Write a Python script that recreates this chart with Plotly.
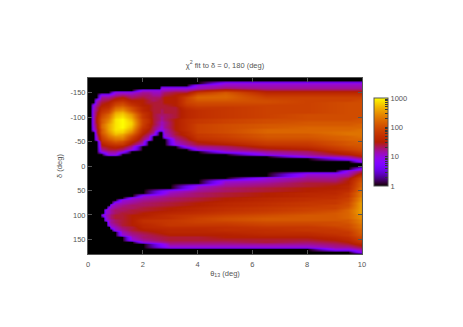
import math
import plotly.graph_objects as go

# Values: 10 * log10(chi^2), 5 degree steps in delta from the given start.
x_ticks = [0, 2, 4, 6, 8, 10]
y_ticks = [-150, -100, -50, 0, 50, 100, 150]
y_tick_labels = ["-150", "-100", "-50", "0", "50", "100", "150"]
cbar_labels = ["1", "10", "100", "1000"]

upper_theta = [0.1, 0.2, 0.3, 0.5, 0.75, 1, 1.25, 1.6, 2, 2.2, 2.4, 2.6, 2.68, 2.8, 3.2, 3.6, 4, 5, 6.5, 8, 9.5, 10]
upper_start = [-100, -125, -135, -145, -145, -150, -150, -150, -155, -155, -155, -155, -160, -160, -160, -160, -165, -170, -170, -170, -170, -170]
u010 = []
u020 = [10, 10, 11, 11, 11, 11, 11, 11, 11, 10, 10]
u030 = [10, 11, 12, 13, 13, 14, 14, 15, 15, 15, 14, 14, 13, 13, 12, 11, 10]
u050 = [10, 12, 13, 14, 15, 16, 17, 18, 19, 20, 21, 21, 22, 22, 21, 21, 20, 19, 18, 17, 15, 14, 12, 10]
u075 = [10, 12, 14, 15, 16, 17, 19, 20, 22, 23, 24, 25, 26, 26, 26, 25, 24, 23, 21, 19, 17, 15, 14, 12, 10]
u100 = [10, 12, 14, 16, 18, 20, 22, 24, 26, 27, 28, 29, 29, 29, 29, 29, 28, 27, 25, 23, 21, 18, 16, 14, 12, 10]
u125 = [10, 13, 15, 17, 19, 21, 23, 25, 27, 28, 29, 30, 30, 30, 30, 29, 28, 26, 25, 23, 20, 18, 15, 13, 10]
u160 = [10, 12, 13, 15, 16, 18, 20, 21, 23, 25, 26, 27, 28, 28, 27, 26, 24, 22, 20, 18, 16, 14, 12, 10]
u200 = [10, 12, 13, 14, 15, 15, 15, 16, 16, 17, 18, 18, 19, 19, 19, 18, 17, 16, 15, 14, 13, 12, 10]
u220 = [10, 12, 13, 13, 14, 14, 15, 15, 15, 16, 16, 16, 17, 17, 16, 16, 15, 14, 13, 12, 10]
u240 = [10, 11, 12, 13, 13, 14, 14, 14, 14, 14, 14, 14, 14, 14, 14, 13, 13, 12, 10]
u260 = [10, 11, 12, 13, 14, 14, 14, 14, 14, 14, 13, 13, 13, 12, 12, 11, 10]
u268 = [10, 11, 12, 13, 14, 14, 14, 14, 14, 13, 13, 13, 12, 12, 11, 11, 10, 10]
u280 = [10, 11, 13, 14, 15, 15, 15, 14, 14, 14, 14, 13, 13, 13, 12, 12, 12, 11, 11, 10, 10]
u320 = [10, 12, 14, 15, 15, 15, 15, 15, 14, 14, 14, 14, 14, 15, 15, 15, 15, 15, 14, 14, 13, 12, 11, 10]
u360 = [10, 12, 14, 17, 19, 19, 19, 18, 17, 16, 16, 16, 16, 17, 17, 17, 17, 17, 16, 16, 15, 14, 13, 12, 10]
u400 = [10, 11, 14, 18, 21, 22, 21, 20, 19, 18, 17, 17, 17, 17, 18, 18, 19, 19, 19, 19, 18, 18, 17, 15, 14, 12, 10]
u500 = [10, 11, 13, 17, 21, 22, 22, 21, 20, 19, 18, 18, 18, 18, 18, 19, 19, 20, 20, 20, 20, 19, 19, 18, 17, 15, 13, 12, 10]
u650 = [10, 11, 12, 14, 16, 18, 19, 20, 20, 19, 19, 19, 19, 19, 19, 20, 20, 21, 21, 22, 22, 21, 21, 20, 19, 18, 16, 14, 12, 10]
u800 = [10, 11, 12, 14, 16, 18, 19, 19, 19, 19, 19, 19, 19, 20, 20, 20, 21, 21, 22, 22, 22, 21, 21, 20, 19, 18, 17, 15, 13, 12, 10]
u950 = [10, 11, 12, 14, 16, 18, 19, 19, 20, 20, 20, 20, 20, 20, 20, 20, 21, 21, 22, 22, 23, 23, 22, 22, 21, 21, 20, 19, 17, 15, 12, 10]
u1000 = [10, 11, 12, 14, 16, 18, 19, 20, 20, 20, 20, 20, 20, 20, 20, 21, 21, 22, 22, 23, 23, 23, 23, 22, 22, 21, 21, 20, 19, 17, 15, 12, 10]
upper_cols = [u010, u020, u030, u050, u075, u100, u125, u160, u200, u220, u240, u260, u268, u280, u320, u360, u400, u500, u650, u800, u950, u1000]

lower_theta = [0.45, 0.55, 0.65, 0.75, 0.85, 1, 1.25, 1.6, 2, 3, 4, 5, 6.5, 8, 9, 9.5, 10]
lower_start = [100, 100, 90, 85, 80, 75, 70, 65, 60, 50, 40, 30, 25, 15, 15, 10, 5]
l045 = []
l055 = [10]
l065 = [10, 10, 11, 10, 10]
l075 = [10, 11, 11, 12, 12, 11, 11, 10]
l085 = [10, 11, 12, 12, 13, 13, 12, 12, 11, 10]
l100 = [10, 11, 12, 13, 13, 14, 14, 13, 13, 12, 11, 10]
l125 = [10, 11, 12, 13, 13, 14, 14, 14, 14, 14, 14, 13, 12, 11, 10]
l160 = [10, 11, 12, 13, 13, 14, 14, 15, 15, 15, 15, 15, 14, 14, 13, 12, 11, 10]
l200 = [10, 11, 12, 13, 13, 14, 14, 15, 15, 16, 17, 17, 16, 16, 15, 14, 13, 13, 12, 10]
l300 = [10, 11, 12, 13, 13, 14, 14, 15, 15, 16, 17, 17, 18, 18, 18, 17, 16, 16, 15, 14, 14, 13, 12, 10]
l400 = [10, 11, 12, 13, 13, 14, 14, 15, 15, 16, 16, 17, 18, 19, 19, 19, 18, 17, 16, 16, 15, 14, 14, 13, 12, 10]
l500 = [10, 11, 12, 13, 13, 14, 14, 15, 15, 16, 16, 17, 17, 18, 19, 20, 20, 19, 18, 17, 17, 16, 15, 15, 14, 13, 12, 10]
l650 = [10, 11, 12, 13, 14, 14, 15, 15, 16, 16, 17, 17, 18, 18, 19, 20, 21, 21, 20, 19, 18, 17, 17, 16, 15, 14, 14, 12, 10]
l800 = [10, 11, 12, 13, 14, 14, 15, 15, 16, 16, 17, 17, 18, 18, 19, 19, 20, 21, 21, 21, 20, 19, 18, 18, 17, 16, 15, 14, 13, 12, 10]
l900 = [10, 11, 12, 13, 14, 15, 15, 16, 16, 17, 17, 18, 18, 19, 19, 20, 21, 21, 21, 21, 20, 20, 19, 18, 18, 17, 16, 15, 14, 13, 12, 10]
l950 = [10, 11, 12, 14, 15, 15, 16, 16, 17, 18, 18, 19, 19, 20, 20, 21, 22, 22, 22, 22, 21, 21, 20, 20, 19, 18, 18, 17, 16, 15, 14, 12, 10]
l1000 = [10, 13, 16, 18, 20, 21, 22, 22, 23, 23, 24, 24, 25, 25, 26, 26, 26, 26, 26, 25, 25, 24, 24, 23, 23, 22, 22, 21, 20, 19, 18, 16, 14, 12, 10]
lower_cols = [l045, l055, l065, l075, l085, l100, l125, l160, l200, l300, l400, l500, l650, l800, l900, l950, l1000]

INK = "#555555"


def grid(starts, cols):
    lo = min(starts) - 5
    hi = max(s + 5 * (len(c) - 1) for s, c in zip(starts, cols)) + 5
    rows = list(range(lo, hi + 5, 5))
    z = [[0.0] * len(cols) for _ in rows]
    for j, (s, c) in enumerate(zip(starts, cols)):
        for k, v in enumerate(c):
            z[rows.index(s + 5 * k)][j] = v / 10
    return rows, z


def palette(n=48):
    out = []
    for i in range(n + 1):
        t = i / n
        r = math.sqrt(t)
        g = t ** 3
        b = max(0.0, math.sin(2 * math.pi * t))
        out.append([t, f"rgb({r*255:.0f},{g*255:.0f},{b*255:.0f})"])
    return out


fig = go.Figure()
for theta, starts, cols in ((upper_theta, upper_start, upper_cols), (lower_theta, lower_start, lower_cols)):
    rows, z = grid(starts, cols)
    fig.add_trace(go.Heatmap(x=theta, y=rows, z=z, coloraxis="coloraxis", zsmooth="best"))

cb_vals, cb_text = [], []
for d in range(4):
    for m in range(1, 10):
        if d == 3 and m > 1:
            break
        cb_vals.append(d + math.log10(m))
        cb_text.append(cbar_labels[d] if m == 1 else "")

axis_font = dict(family="Liberation Sans", size=7.5, color=INK)
fig.update_layout(
    width=455, height=319,
    margin=dict(l=80, r=100.5, t=70, b=73),
    paper_bgcolor="white", plot_bgcolor="black",
    font=axis_font,
    title=dict(text="χ<sup>2</sup> fit to δ = 0, 180 (deg)", x=217 / 455, xanchor="center",
               y=1 - 57 / 319, yanchor="middle", font=axis_font),
    coloraxis=dict(
        cmin=0, cmax=3, colorscale=palette(),
        colorbar=dict(x=1.0455, xanchor="left", xpad=0, ypad=0, thickness=14,
                      len=0.5, lenmode="fraction", y=0.636, yanchor="middle",
                      outlinewidth=1, outlinecolor=INK,
                      tickmode="array", tickvals=cb_vals, ticktext=cb_text,
                      ticks="inside", ticklen=3, tickwidth=1, tickcolor="#333333",
                      tickfont=axis_font),
    ),
    xaxis=dict(range=[0, 10], tickvals=x_ticks, ticks="inside", ticklen=4, tickcolor=INK,
               showgrid=False, zeroline=False, showline=True, linecolor=INK, mirror="ticks",
               ticklabelstandoff=3,
               title=dict(text="θ<sub>13</sub> (deg)", font=axis_font, standoff=2),
               tickfont=axis_font),
    yaxis=dict(range=[180, -180], tickmode="array", tickvals=y_ticks, ticktext=y_tick_labels,
               ticks="inside", ticklen=4, tickcolor=INK,
               showgrid=False, zeroline=False, showline=True, linecolor=INK, mirror="ticks",
               title=dict(text="δ (deg)", font=axis_font, standoff=6),
               tickfont=axis_font),
)
fig.write_html("out.html")
